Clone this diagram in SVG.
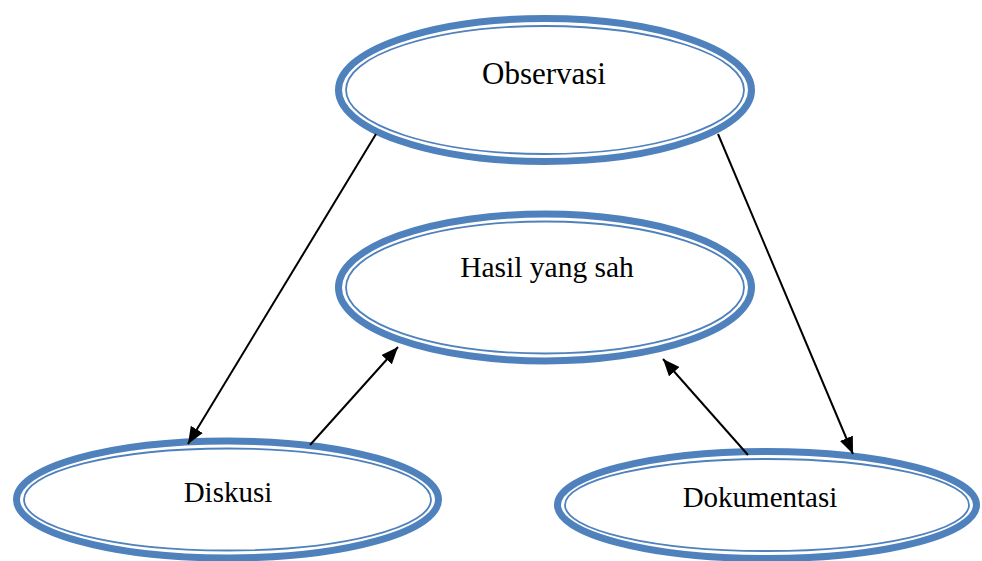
<svg xmlns="http://www.w3.org/2000/svg" width="982" height="561" viewBox="0 0 982 561">
<defs>
<style>
.outer{fill:#fff;stroke:#4F81BD;stroke-width:7}
.inner{fill:none;stroke:#4F81BD;stroke-width:1.8}
.lbl{font-family:"Liberation Serif","Times New Roman",serif;fill:#000;text-anchor:middle}
.conn{stroke:#000;stroke-width:2;fill:none;marker-end:url(#ah)}
</style>
<marker id="ah" markerUnits="userSpaceOnUse" markerWidth="18" markerHeight="14" refX="17" refY="7" orient="auto">
<path d="M0,0 L17,7 L0,14 z" fill="#000"/>
</marker>
</defs>
<rect width="982" height="561" fill="#fff"/>
<g id="observasi">
<ellipse class="outer" cx="545" cy="90" rx="206.5" ry="71.5"/>
<ellipse class="inner" cx="545" cy="90" rx="199" ry="64"/>
<text class="lbl" x="544" y="84" font-size="31">Observasi</text>
</g>
<g id="hasil">
<ellipse class="outer" cx="545" cy="287.5" rx="206.5" ry="73.5"/>
<ellipse class="inner" cx="545" cy="287.5" rx="199" ry="66"/>
<text class="lbl" x="547" y="277" font-size="29.5">Hasil yang sah</text>
</g>
<g id="diskusi">
<ellipse class="outer" cx="227.5" cy="499.5" rx="211" ry="58.5"/>
<ellipse class="inner" cx="227.5" cy="499.5" rx="203.5" ry="51"/>
<text class="lbl" x="228" y="502" font-size="29">Diskusi</text>
</g>
<g id="dokumentasi">
<ellipse class="outer" cx="767" cy="505" rx="209.5" ry="53.5"/>
<ellipse class="inner" cx="767" cy="505" rx="202" ry="46"/>
<text class="lbl" x="760" y="507" font-size="29">Dokumentasi</text>
</g>
<g id="connectors">
<line class="conn" x1="376" y1="134" x2="188" y2="444"/>
<line class="conn" x1="718" y1="134" x2="853" y2="454"/>
<line class="conn" x1="310" y1="445" x2="398" y2="347"/>
<line class="conn" x1="748" y1="455" x2="663" y2="359"/>
</g>
</svg>
